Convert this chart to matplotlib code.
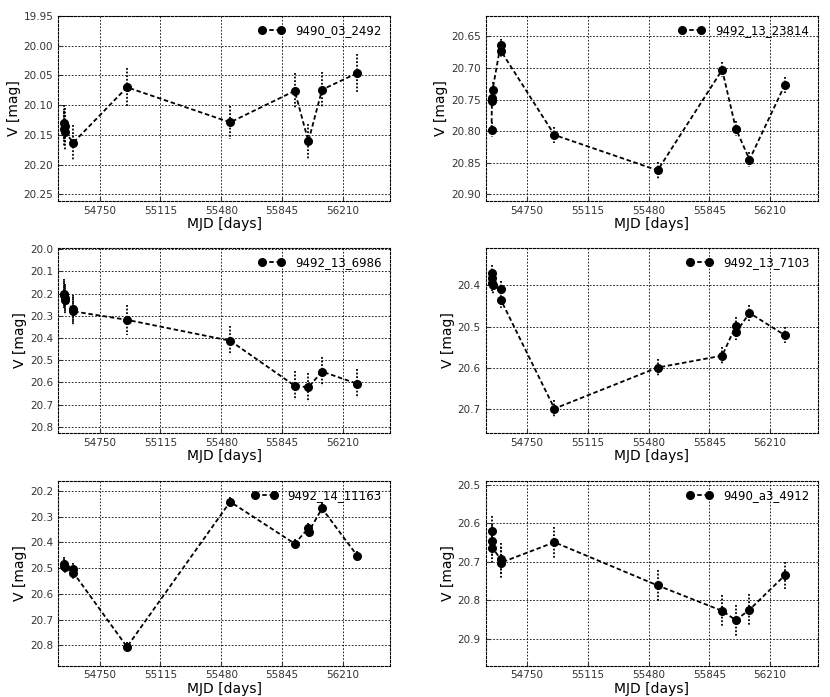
import numpy as np
import matplotlib
matplotlib.use("Agg")
import matplotlib.pyplot as plt

# ---- light curve data ----
names = ["9490_03_2492", "9492_13_23814", "9492_13_6986",
         "9492_13_7103", "9492_14_11163", "9490_a3_4912"]

mjd_1 = [54536, 54538, 54540, 54542, 54592, 54914, 55534, 55922, 56004, 56086, 56298]
mag_1 = [20.130, 20.140, 20.135, 20.146, 20.163, 20.070, 20.129, 20.076, 20.161, 20.074, 20.046]
err_1 = [0.030, 0.030, 0.030, 0.030, 0.030, 0.032, 0.028, 0.030, 0.030, 0.030, 0.032]

mjd_2 = [54536, 54538, 54540, 54542, 54590, 54592, 54914, 55534, 55922, 56004, 56086, 56298]
mag_2 = [20.798, 20.753, 20.748, 20.735, 20.664, 20.673, 20.806, 20.862, 20.703, 20.796, 20.845, 20.727]
err_2 = [0.012, 0.012, 0.012, 0.012, 0.010, 0.010, 0.012, 0.014, 0.012, 0.012, 0.012, 0.012]

mjd_3 = [54536, 54538, 54540, 54542, 54590, 54592, 54914, 55534, 55922, 56004, 56086, 56298]
mag_3 = [20.200, 20.206, 20.221, 20.230, 20.270, 20.280, 20.318, 20.412, 20.615, 20.622, 20.551, 20.606]
err_3 = [0.065, 0.065, 0.065, 0.065, 0.065, 0.065, 0.068, 0.065, 0.065, 0.065, 0.065, 0.065]

mjd_4 = [54536, 54538, 54540, 54542, 54590, 54592, 54914, 55534, 55922, 56004, 56006, 56086, 56298]
mag_4 = [20.370, 20.382, 20.394, 20.400, 20.409, 20.435, 20.700, 20.600, 20.571, 20.498, 20.514, 20.467, 20.521]
err_4 = [0.020, 0.020, 0.020, 0.020, 0.020, 0.020, 0.020, 0.020, 0.020, 0.020, 0.020, 0.020, 0.020]

mjd_5 = [54536, 54538, 54540, 54590, 54592, 54914, 55534, 55922, 56004, 56006, 56086, 56298]
mag_5 = [20.482, 20.490, 20.495, 20.505, 20.518, 20.806, 20.242, 20.405, 20.345, 20.358, 20.268, 20.452]
err_5 = [0.025, 0.025, 0.025, 0.025, 0.025, 0.020, 0.020, 0.020, 0.020, 0.020, 0.020, 0.020]

mjd_6 = [54536, 54538, 54540, 54590, 54592, 54914, 55534, 55922, 56004, 56086, 56298]
mag_6 = [20.621, 20.645, 20.663, 20.692, 20.702, 20.649, 20.761, 20.827, 20.851, 20.824, 20.735]
err_6 = [0.040, 0.040, 0.040, 0.040, 0.040, 0.040, 0.040, 0.040, 0.040, 0.040, 0.035]

mjds = [mjd_1, mjd_2, mjd_3, mjd_4, mjd_5, mjd_6]
mags = [mag_1, mag_2, mag_3, mag_4, mag_5, mag_6]
errs = [err_1, err_2, err_3, err_4, err_5, err_6]

# y limits (bright at top) and tick values per panel
ylims = [(20.261, 19.95), (20.91, 20.618), (20.827, 19.995),
         (20.759, 20.309), (20.879, 20.161), (20.969, 20.49)]
yticks = [[19.95, 20.00, 20.05, 20.10, 20.15, 20.20, 20.25],
          [20.65, 20.70, 20.75, 20.80, 20.85, 20.90],
          [20.0, 20.1, 20.2, 20.3, 20.4, 20.5, 20.6, 20.7, 20.8],
          [20.4, 20.5, 20.6, 20.7],
          [20.2, 20.3, 20.4, 20.5, 20.6, 20.7, 20.8],
          [20.5, 20.6, 20.7, 20.8, 20.9]]
ytick_fmt = ["%.2f", "%.2f", "%.1f", "%.1f", "%.1f", "%.1f"]
xticks = [54750, 55115, 55480, 55845, 56210]

fig = plt.figure(figsize=(8.3, 6.97), dpi=100)

# axes rectangles in figure fractions
lefts = [0.070, 0.585]
bottoms = [0.712, 0.379, 0.045]
w, h = 0.400, 0.265

for k in range(6):
    row, col = k // 2, k % 2
    ax = fig.add_axes([lefts[col], bottoms[row], w, h])

    # error bars (dotted), then the light curve itself
    eb = ax.errorbar(mjds[k], mags[k], yerr=errs[k], fmt='none', ecolor='k',
                     elinewidth=1.3, capsize=0)
    eb[2][0].set_linestyle((0, (1, 1)))
    ax.plot(mjds[k], mags[k], 'o', color='k', ms=5.5, ls='--', lw=1.3,
            dashes=(2.5, 1.5), label=names[k])

    ax.set_xlim(54500, 56495)
    ax.set_ylim(*ylims[k])
    ax.set_xticks(xticks)
    ax.set_yticks(yticks[k])
    ax.set_yticklabels([ytick_fmt[k] % v for v in yticks[k]])
    ax.tick_params(direction='in', labelsize=7.5, length=3, colors='#333333')
    ax.grid(True, ls='--', color='k', lw=0.6, dashes=(2, 2))
    for sp in ax.spines.values():
        sp.set_linestyle((0, (2, 1.5)))
        sp.set_linewidth(0.8)

    ax.set_xlabel('MJD [days]', fontsize=10, labelpad=1)
    ax.set_ylabel('V [mag]', fontsize=10, labelpad=2)
    ax.legend(loc='upper right', frameon=False, numpoints=2, fontsize=8.5,
              handlelength=2.2, handletextpad=0.9, borderaxespad=0.3)

fig.savefig('out.png', dpi=100)
